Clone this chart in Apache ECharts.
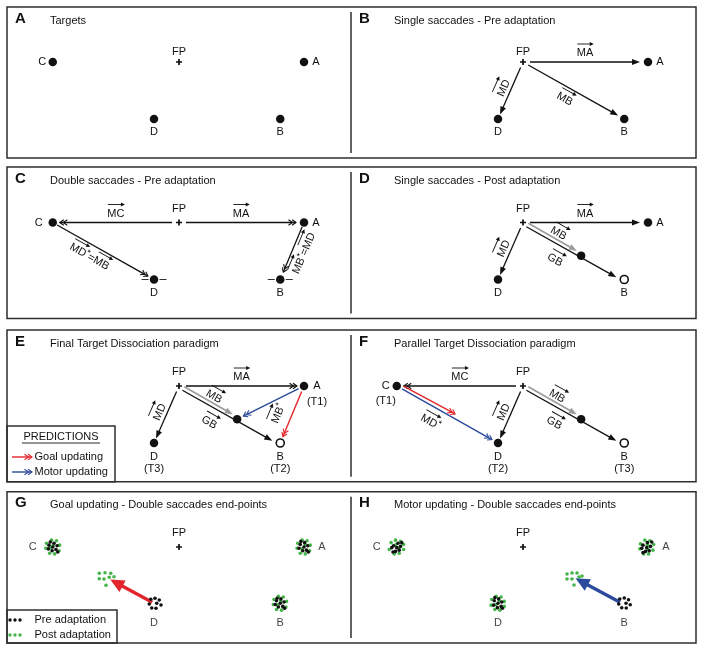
<!DOCTYPE html>
<html>
<head>
<meta charset="utf-8">
<script src="https://cdn.jsdelivr.net/npm/echarts@6.0.0/dist/echarts.min.js"></script>
<style>
html,body{margin:0;padding:0;background:#ffffff;}
#chart{width:704px;height:650px;}
</style>
</head>
<body>
<div id="chart"></div>
<script>
// ===== DATA (units: deg of visual angle, fixation point FP at origin, y up) =====
const targetNames = ['FP', 'A', 'B', 'C', 'D'];
const targetX     = [0, 10, 8.1, -10.1, -2];
const targetY     = [0, 0, -4.56, 0, -4.56];
const adaptedB     = [4.65, -2.65];   // landing point of adapted saccade to B
const goalShiftedD = [-5.55, -2.45];  // panel F goal-updating prediction
const goalArrowG   = [[-2.0, -4.5], [-5.5, -2.6]];
const motorArrowH  = [[7.9, -4.5], [4.2, -2.5]];

const panelLetters = ['A','B','C','D','E','F','G','H'];
const panelTitles = [
  'Targets',
  'Single saccades - Pre adaptation',
  'Double saccades - Pre adaptation',
  'Single saccades - Post adaptation',
  'Final Target Dissociation paradigm',
  'Parallel Target Dissociation paradigm',
  'Goal updating - Double saccades end-points',
  'Motor updating - Double saccades end-points'
];

// panel G end-point clusters
const gPostC = [[-10.6,0.3],[-10.2,0.55],[-9.8,0.5],[-9.55,0.15],[-9.6,-0.3],[-9.95,-0.55],[-10.35,-0.5],[-10.65,-0.1],[-10.05,0.15],[-10.25,-0.05]];
const gPreC  = [[-10.4,0.15],[-10.0,0.3],[-9.75,0.1],[-9.85,-0.2],[-10.15,-0.3],[-10.45,-0.15],[-10.1,0.0],[-9.7,-0.4],[-10.3,0.4]];
const gPostA = [[9.5,0.3],[9.85,0.55],[10.25,0.5],[10.5,0.15],[10.45,-0.3],[10.1,-0.55],[9.7,-0.5],[9.45,-0.1],[10.1,0.2],[9.85,-0.15]];
const gPreA  = [[9.7,0.2],[10.05,0.35],[10.3,0.1],[10.2,-0.25],[9.9,-0.3],[9.6,-0.1],[10.0,0.0],[10.35,-0.4],[9.75,0.45]];
const gPostB = [[7.6,-4.2],[7.95,-3.95],[8.35,-4.0],[8.6,-4.35],[8.55,-4.8],[8.2,-5.05],[7.8,-5.0],[7.55,-4.6],[8.15,-4.3],[7.9,-4.65]];
const gPreB  = [[7.8,-4.3],[8.15,-4.15],[8.4,-4.4],[8.3,-4.75],[7.95,-4.8],[7.7,-4.6],[8.1,-4.5],[8.45,-4.9],[7.85,-4.1]];
const gPreD  = [[-2.26,-4.18],[-1.92,-4.1],[-1.58,-4.24],[-2.38,-4.56],[-1.78,-4.5],[-1.44,-4.64],[-2.18,-4.88],[-1.84,-4.9]];
const gPostD = [[-6.38,-2.1],[-5.92,-2.06],[-5.46,-2.1],[-6.38,-2.54],[-6.0,-2.56],[-5.58,-2.42],[-5.84,-3.06],[-5.2,-2.38]];
// panel H end-point clusters
const hPostC = [[-10.55,0.35],[-10.2,0.55],[-9.8,0.45],[-9.55,0.2],[-9.55,-0.2],[-9.9,-0.5],[-10.3,-0.55],[-10.7,-0.2],[-10.15,0.2],[-9.95,-0.1]];
const hPreC  = [[-10.35,0.1],[-10.0,0.3],[-9.8,0.05],[-9.9,-0.25],[-10.2,-0.35],[-10.5,-0.05],[-10.1,-0.05],[-9.7,0.35],[-10.4,-0.4]];
const hPostA = [[9.4,0.25],[9.75,0.55],[10.15,0.5],[10.45,0.2],[10.4,-0.25],[10.05,-0.55],[9.65,-0.55],[9.35,-0.15],[9.95,0.15],[10.0,-0.2]];
const hPreA  = [[9.6,0.15],[9.95,0.35],[10.2,0.05],[10.1,-0.3],[9.8,-0.35],[9.5,-0.1],[9.9,-0.05],[10.3,0.4],[9.6,-0.45]];
const hPostD = [[-2.5,-4.2],[-2.15,-3.95],[-1.75,-4.0],[-1.5,-4.35],[-1.5,-4.75],[-1.85,-5.05],[-2.25,-5.0],[-2.55,-4.65],[-1.9,-4.3],[-2.15,-4.6]];
const hPreD  = [[-2.3,-4.3],[-1.95,-4.15],[-1.7,-4.4],[-1.75,-4.75],[-2.05,-4.85],[-2.35,-4.65],[-2.0,-4.5],[-1.65,-4.9],[-2.25,-4.05]];
const hPreB  = [[7.74,-4.16],[8.1,-4.08],[8.44,-4.22],[7.66,-4.56],[8.24,-4.5],[8.58,-4.62],[7.9,-4.86],[8.26,-4.88]];
const hPostB = [[3.52,-2.16],[3.92,-2.08],[4.32,-2.08],[3.52,-2.56],[3.92,-2.56],[4.48,-2.4],[4.08,-3.04],[4.72,-2.32]];

// which targets are drawn in each panel
const panelDots = { A:['A','B','C','D'], B:['A','B','D'], C:['A','B','C','D'], D:['A','D'], E:['A','D'], F:['C','D'], G:[], H:[] };
const panelOpen = { D:['B'], E:['B'], F:['B'] };
const panelAdapted = ['D','E','F'];
const panelTicks = { C:['D','B'] };
const labelText = { E:{A:'A\n(T1)', D:'D\n(T3)', B:'B\n(T2)'}, F:{C:'C\n(T1)', D:'D\n(T2)', B:'B\n(T3)'} };

// saccade vectors per panel ([XY] = vector notation)
const panelArrows = {
  A: [],
  B: [
    {from:'FP', to:'A', style:'black', gap:[7,8], label:'[MA]', lt:0.5, lo:9},
    {from:'FP', to:'D', style:'black', gap:[6,5], label:'[MD]', lt:0.5, lo:7},
    {from:'FP', to:'B', style:'black', gap:[6,7], label:'[MB]', lt:0.47, lo:-12}
  ],
  C: [
    {from:'FP', to:'C', style:'blackDbl', gap:[7,7], label:'[MC]', lt:0.5, lo:9},
    {from:'FP', to:'A', style:'blackDbl', gap:[7,8], label:'[MA]', lt:0.5, lo:9},
    {from:'C', to:'D', style:'blackDbl', gap:[5,7], label:'[MD]*=[MB]', lt:0.42, lo:-12},
    {from:'A', to:'B', style:'blackDbl', gap:[5,8], label:'[MB]*=[MD]', lt:0.48, lo:-12}
  ],
  D: [
    {from:'FP', to:'A', style:'black', gap:[7,8], label:'[MA]', lt:0.5, lo:9},
    {from:'FP', to:'D', style:'black', gap:[6,5], label:'[MD]', lt:0.5, lo:7},
    {from:'FP', to:'B*', style:'gray', gap:[5,6], off:2, label:'[MB]', lt:0.56, lo:6},
    {from:'FP', to:'B', style:'black', gap:[5,8], off:-2, label:'[GB]', lt:0.4, lo:-15}
  ],
  E: [
    {from:'FP', to:'A', style:'blackDbl', gap:[7,7], label:'[MA]', lt:0.5, lo:9},
    {from:'FP', to:'D', style:'black', gap:[6,5], label:'[MD]', lt:0.5, lo:7},
    {from:'FP', to:'B*', style:'gray', gap:[5,6], off:2, label:'[MB]', lt:0.55, lo:6},
    {from:'FP', to:'B', style:'black', gap:[5,8], off:-2, label:'[GB]', lt:0.38, lo:-15},
    {from:'A', to:'B*', style:'blue', gap:[6,7]},
    {from:'A', to:'B', style:'red', gap:[6,7], label:'[MB]*', lt:0.6, lo:13}
  ],
  F: [
    {from:'FP', to:'C', style:'blackDbl', gap:[7,7], label:'[MC]', lt:0.5, lo:9},
    {from:'FP', to:'D', style:'black', gap:[6,5], label:'[MD]', lt:0.5, lo:7},
    {from:'FP', to:'B*', style:'gray', gap:[5,6], off:2, label:'[MB]', lt:0.53, lo:6},
    {from:'FP', to:'B', style:'black', gap:[5,8], off:-2, label:'[GB]', lt:0.39, lo:-15},
    {from:'C', to:"D'", style:'red', gap:[6,0], off:3},
    {from:'C', to:'D', style:'blue', gap:[6,7], label:'[MD]*', lt:0.4, lo:-15}
  ],
  G: [ {from:goalArrowG[0], to:goalArrowG[1], style:'bigRed', gap:[2,0]} ],
  H: [ {from:motorArrowH[0], to:motorArrowH[1], style:'bigBlue', gap:[2,0]} ]
};
const panelClusters = {
  G: { post:[gPostC,gPostA,gPostB,gPostD], pre:[gPreC,gPreA,gPreB,gPreD] },
  H: { post:[hPostC,hPostA,hPostD,hPostB], pre:[hPreC,hPreA,hPreD,hPreB] }
};

// ===== STYLE / LAYOUT =====
const FONT = '"Liberation Sans", Arial, Helvetica, sans-serif';
const INK = '#111111';
const GREEN = '#45b54a';
const RED = '#e3262b';
const BLUE = '#2b4a9b';
const FRAME = '#2e2e2e';
const PX = 12.5, XMIN = -14, XMAX = 14, YMIN = -8, YMAX = 4;
const fpCol = [179, 523];
const fpRow = [62, 222.5, 386, 547];
const rowTop = [7, 167, 330, 491.7];
const rowBot = [158, 318.5, 481.7, 643];
const PLUS = 'path://M2,0h1.6v2h2v1.6h-2v2h-1.6v-2h-2v-1.6h2z';

const arrowStyles = {
  black:    {color:INK, width:1.3, head:'tri'},
  blackDbl: {color:INK, width:1.3, head:'dbl'},
  gray:     {color:'#9b9b9b', width:1.7, head:'tri'},
  red:      {color:RED, width:1.4, head:'dbl'},
  blue:     {color:BLUE, width:1.4, head:'dbl'},
  bigRed:   {color:RED, width:3.4, head:'big'},
  bigBlue:  {color:BLUE, width:3.4, head:'big'}
};

function pt(name) { const i = targetNames.indexOf(name); return [targetX[i], targetY[i]]; }
function resolve(ref) {
  if (Array.isArray(ref)) return ref;
  if (ref === 'B*') return adaptedB;
  if (ref === "D'") return goalShiftedD;
  return pt(ref);
}

const mctx = document.createElement('canvas').getContext('2d');
function textW(t, size) { mctx.font = size + 'px ' + FONT; return mctx.measureText(t).width; }

function vectorLabel(str) {
  const toks = str.match(/\[[^\]]+\]|\*|[^\[\*]+/g);
  const parts = []; let x = 0;
  toks.forEach(tk => {
    if (tk[0] === '[') { const t = tk.slice(1, -1); const w = textW(t, 11); parts.push({t, x, w, size:11, vec:true}); x += w; }
    else if (tk === '*') { const w = textW('*', 9); parts.push({t:'*', x, w, size:9, sup:true}); x += w; }
    else { const w = textW(tk, 11); parts.push({t:tk, x, w, size:11}); x += w; }
  });
  const W = x, kids = [];
  parts.forEach(p => {
    const x0 = p.x - W / 2;
    kids.push({type:'text', x:x0, y:p.sup ? -3 : 0,
      style:{text:p.t, fill:INK, fontSize:p.size, fontFamily:FONT, align:'left', verticalAlign:'middle'}});
    if (p.vec) {
      const yA = -9;
      kids.push({type:'line', shape:{x1:x0 + 0.5, y1:yA, x2:x0 + p.w - 2, y2:yA}, style:{stroke:INK, lineWidth:0.9}});
      kids.push({type:'polygon', shape:{points:[[x0 + p.w + 0.5, yA],[x0 + p.w - 3.5, yA - 2.1],[x0 + p.w - 3.5, yA + 2.1]]}, style:{fill:INK}});
    }
  });
  return kids;
}

function makeArrowRenderer(specs) {
  return function (params, api) {
    const sp = specs[params.dataIndex];
    const st = arrowStyles[sp.style];
    const a = api.coord([api.value(0), api.value(1)]);
    const b = api.coord([api.value(2), api.value(3)]);
    const dx = b[0] - a[0], dy = b[1] - a[1], L = Math.hypot(dx, dy);
    const ux = dx / L, uy = dy / L, nx = -uy, ny = ux;
    let tx = ux, ty = uy;
    if (tx < -1e-6) { tx = -ux; ty = -uy; }
    const upx = ty, upy = -tx;
    const off = sp.off || 0, g = sp.gap || [0, 0];
    const s = [a[0] + ux * g[0] + upx * off, a[1] + uy * g[0] + upy * off];
    const e = [b[0] - ux * g[1] + upx * off, b[1] - uy * g[1] + upy * off];
    const kids = [];
    let le = e;
    if (st.head === 'tri' || st.head === 'big') {
      const hl = st.head === 'big' ? 14 : 8, hw = st.head === 'big' ? 6.5 : 3;
      const bx = e[0] - ux * hl, by = e[1] - uy * hl;
      kids.push({type:'polygon', shape:{points:[[e[0], e[1]],[bx + nx * hw, by + ny * hw],[bx - nx * hw, by - ny * hw]]}, style:{fill:st.color}});
      le = [bx + ux, by + uy];
    } else {
      [0, 3.5].forEach(k => {
        const cx = e[0] - ux * k, cy = e[1] - uy * k;
        kids.push({type:'polyline', shape:{points:[[cx - ux * 4 + nx * 2.8, cy - uy * 4 + ny * 2.8],[cx, cy],[cx - ux * 4 - nx * 2.8, cy - uy * 4 - ny * 2.8]]},
          style:{stroke:st.color, lineWidth:1.1, fill:null}});
      });
    }
    kids.unshift({type:'line', shape:{x1:s[0], y1:s[1], x2:le[0], y2:le[1]}, style:{stroke:st.color, lineWidth:st.width}});
    if (sp.label) {
      const lt = sp.lt == null ? 0.5 : sp.lt;
      const px = s[0] + (e[0] - s[0]) * lt + upx * sp.lo;
      const py = s[1] + (e[1] - s[1]) * lt + upy * sp.lo;
      kids.push({type:'group', x:px, y:py, rotation:-Math.atan2(ty, tx), children:vectorLabel(sp.label)});
    }
    return {type:'group', children:kids};
  };
}

function labelFor(panel, name) {
  const custom = (labelText[panel] || {})[name];
  const far = (panel === 'G' || panel === 'H');
  const row = Math.floor(panelLetters.indexOf(panel) / 2);
  let off, lh = 12;
  if (name === 'FP') off = [0, row === 0 ? -10 : -14];
  else if (name === 'A') off = far ? [18, 0] : [12, 0];
  else if (name === 'C') off = far ? [-20, 0] : (panel === 'C' ? [-14, 0] : [-10.5, 0]);
  else off = far ? [0, 19] : [0, 13];
  if (custom) {
    if (name === 'A') { off = [13, 8]; lh = 16; }
    else if (name === 'C') { off = [-11, 7.5]; lh = 15; }
    else { off = [0, 20]; lh = 12; }
  }
  return {show:true, position:'inside', offset:off, formatter:custom || name, color:INK,
    fontSize:11, fontFamily:FONT, lineHeight:lh, align:'center', verticalAlign:'middle'};
}

const grids = [], xAxes = [], yAxes = [], series = [];
panelLetters.forEach((P, i) => {
  const col = i % 2, row = Math.floor(i / 2);
  grids.push({left:fpCol[col] + XMIN * PX, top:fpRow[row] - YMAX * PX, width:(XMAX - XMIN) * PX, height:(YMAX - YMIN) * PX, show:false});
  xAxes.push({type:'value', gridIndex:i, min:XMIN, max:XMAX, show:false});
  yAxes.push({type:'value', gridIndex:i, min:YMIN, max:YMAX, show:false});
  const base = {xAxisIndex:i, yAxisIndex:i, silent:true, animation:false};

  // saccade arrows
  const specs = panelArrows[P];
  if (specs.length) {
    series.push(Object.assign({type:'custom', name:'saccades ' + P, coordinateSystem:'cartesian2d', z:2,
      encode:{x:[0, 2], y:[1, 3]},
      data:specs.map(sp => resolve(sp.from).concat(resolve(sp.to))),
      renderItem:makeArrowRenderer(specs)}, base));
  }
  // horizontal ticks at double-saccade end targets
  if (panelTicks[P]) {
    series.push(Object.assign({type:'custom', coordinateSystem:'cartesian2d', z:2,
      data:panelTicks[P].map(pt),
      renderItem:(p, api) => {
        const c = api.coord([api.value(0), api.value(1)]);
        const st = {stroke:'#333', lineWidth:1};
        return {type:'group', children:[
          {type:'line', shape:{x1:c[0] - 12.5, y1:c[1], x2:c[0] - 5.5, y2:c[1]}, style:st},
          {type:'line', shape:{x1:c[0] + 5.5, y1:c[1], x2:c[0] + 12.5, y2:c[1]}, style:st}]};
      }}, base));
  }
  // clusters (G, H)
  const cl = panelClusters[P];
  if (cl) {
    series.push(Object.assign({type:'scatter', name:'Post adaptation', z:3, symbolSize:3.6,
      itemStyle:{color:GREEN, opacity:1}, data:[].concat(...cl.post)}, base));
    series.push(Object.assign({type:'scatter', name:'Pre adaptation', z:4, symbolSize:3.6,
      itemStyle:{color:INK, opacity:1}, data:[].concat(...cl.pre)}, base));
    series.push(Object.assign({type:'scatter', z:5, symbolSize:0,
      data:['A','B','C','D'].map(n => ({value:pt(n), label:labelFor(P, n)}))}, base));
  }
  // filled targets
  if (panelDots[P].length) {
    series.push(Object.assign({type:'scatter', z:4, symbol:'circle', symbolSize:8.5, itemStyle:{color:INK, opacity:1},
      data:panelDots[P].map(n => ({value:pt(n), label:labelFor(P, n)}))}, base));
  }
  // open (original) target B after adaptation
  if (panelOpen[P]) {
    series.push(Object.assign({type:'scatter', z:4, symbol:'circle', symbolSize:8,
      itemStyle:{color:'#ffffff', borderColor:INK, borderWidth:1.6, opacity:1},
      data:panelOpen[P].map(n => ({value:pt(n), label:labelFor(P, n)}))}, base));
  }
  // adapted end point
  if (panelAdapted.indexOf(P) >= 0) {
    series.push(Object.assign({type:'scatter', z:4, symbol:'circle', symbolSize:8.5, itemStyle:{color:INK, opacity:1},
      data:[adaptedB]}, base));
  }
  // fixation point
  series.push(Object.assign({type:'scatter', z:4, symbol:PLUS, symbolSize:6, itemStyle:{color:INK, opacity:1},
    data:[{value:pt('FP'), label:labelFor(P, 'FP')}]}, base));
});

// ===== frames, panel letters, titles, legends =====
const graphic = [];
function gText(x, y, text, font, align, fill) {
  return {type:'text', x, y, silent:true, z:10,
    style:{text, fill:fill || INK, font, align:align || 'left', verticalAlign:'middle', textAlign:align || 'left', textVerticalAlign:'middle'}};
}
rowTop.forEach((t, r) => {
  graphic.push({type:'rect', z:10, silent:true, shape:{x:7, y:t, width:689, height:rowBot[r] - t}, style:{fill:'none', stroke:FRAME, lineWidth:1.5}});
  graphic.push({type:'line', z:10, silent:true, shape:{x1:351, y1:t + 5, x2:351, y2:rowBot[r] - 5}, style:{stroke:FRAME, lineWidth:1.5}});
});
panelLetters.forEach((P, i) => {
  const col = i % 2, row = Math.floor(i / 2);
  graphic.push(gText(col ? 359 : 15, rowTop[row] + 11.5, P, 'bold 15px ' + FONT));
  graphic.push(gText(col ? 394 : 50, rowTop[row] + 13.5, panelTitles[i], '11px ' + FONT));
});
function dblArrow(x1, x2, y, color) {
  const els = [{type:'line', z:10, silent:true, shape:{x1, y1:y, x2, y2:y}, style:{stroke:color, lineWidth:1.4}}];
  [0, 3.5].forEach(k => {
    els.push({type:'polyline', z:10, silent:true, shape:{points:[[x2 - k - 4, y - 2.8],[x2 - k, y],[x2 - k - 4, y + 2.8]]}, style:{stroke:color, lineWidth:1.1, fill:null}});
  });
  return els;
}
// predictions legend (panel E)
graphic.push({type:'rect', z:10, silent:true, shape:{x:7, y:426, width:108, height:55.7}, style:{fill:'none', stroke:FRAME, lineWidth:1.5}});
graphic.push(gText(61, 437, 'PREDICTIONS', '11px ' + FONT, 'center'));
graphic.push({type:'line', z:10, silent:true, shape:{x1:22, y1:443, x2:100, y2:443}, style:{stroke:INK, lineWidth:0.9}});
graphic.push(...dblArrow(12, 32, 457, RED));
graphic.push(gText(34.5, 457, 'Goal updating', '11px ' + FONT));
graphic.push(...dblArrow(12, 32, 472, BLUE));
graphic.push(gText(34.5, 472, 'Motor updating', '11px ' + FONT));
// pre/post legend (panel G)
graphic.push({type:'rect', z:10, silent:true, shape:{x:7, y:610, width:110, height:33}, style:{fill:'none', stroke:FRAME, lineWidth:1.5}});
[10, 15, 20].forEach(x => {
  graphic.push({type:'circle', z:10, silent:true, shape:{cx:x, cy:620, r:1.7}, style:{fill:INK}});
  graphic.push({type:'circle', z:10, silent:true, shape:{cx:x, cy:635, r:1.7}, style:{fill:GREEN}});
});
graphic.push(gText(34.5, 620, 'Pre adaptation', '11px ' + FONT));
graphic.push(gText(34.5, 635, 'Post adaptation', '11px ' + FONT));

const chart = echarts.init(document.getElementById('chart'), null, {renderer:'canvas'});
chart.setOption({
  backgroundColor:'#ffffff',
  animation:false,
  grid:grids, xAxis:xAxes, yAxis:yAxes,
  series:series,
  graphic:{elements:graphic}
});
</script>
</body>
</html>
